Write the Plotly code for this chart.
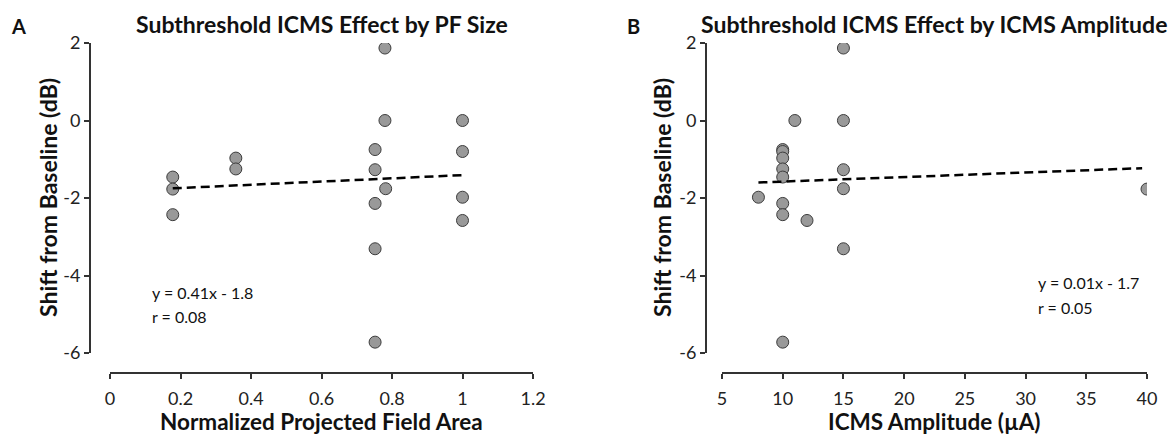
import plotly.graph_objects as go

W, H = 1168, 436

# ---- data ----
shift_db = [1.87, 0.0, 0.0, -0.75, -0.80, -0.97, -1.25, -1.27, -1.46, -1.76, -1.77,
            -1.98, -2.14, -2.43, -2.58, -3.31, -5.72]
pf_area = [0.78, 0.78, 1.0, 0.752, 1.0, 0.357, 0.357, 0.752, 0.178, 0.782, 0.178,
           1.0, 0.752, 0.178, 1.0, 0.752, 0.752]
icms_amp = [15, 15, 11, 10, 10, 10, 10, 15, 10, 15, 40,
            8, 10, 10, 12, 15, 10]

fit_a_x = [0.178, 1.0]
fit_a_y = [-1.75, -1.41]
fit_b_x = [8, 39.6]
fit_b_y = [-1.60, -1.23]

y_ticks = [2, 0, -2, -4, -6]
y_labels = ["2", "0", "-2", "-4", "-6"]
xa_ticks = [0, 0.2, 0.4, 0.6, 0.8, 1, 1.2]
xa_labels = ["0", "0.2", "0.4", "0.6", "0.8", "1", "1.2"]
xb_ticks = [5, 10, 15, 20, 25, 30, 35, 40]
xb_labels = ["5", "10", "15", "20", "25", "30", "35", "40"]

FONT = "Lato"
marker = dict(size=12, color="#999999", line=dict(color="#3c3c3c", width=1))
dash_line = dict(color="black", width=2.5, dash="9px,5px")

def px(x):
    return x / W

def py(y):
    return (H - y) / H

fig = go.Figure()
fig.add_trace(go.Scatter(x=pf_area, y=shift_db, mode="markers", marker=marker,
                         xaxis="x", yaxis="y", showlegend=False))
fig.add_trace(go.Scatter(x=fit_a_x, y=fit_a_y, mode="lines", line=dash_line,
                         xaxis="x", yaxis="y", showlegend=False))
fig.add_trace(go.Scatter(x=icms_amp, y=shift_db, mode="markers", marker=marker,
                         xaxis="x2", yaxis="y2", showlegend=False))
fig.add_trace(go.Scatter(x=fit_b_x, y=fit_b_y, mode="lines", line=dash_line,
                         xaxis="x2", yaxis="y2", showlegend=False))

ydom = [py(353), py(43)]
xpos = py(373)
axis_common = dict(showgrid=False, zeroline=False, showline=True, linecolor="#333333",
                   linewidth=2, ticks="outside", ticklen=5, tickwidth=2, tickcolor="#333333",
                   automargin=False,
                   tickfont=dict(family=FONT, size=18, color="#222222"))

fig.update_layout(
    width=W, height=H,
    margin=dict(l=0, r=0, t=0, b=0),
    paper_bgcolor="white", plot_bgcolor="white",
    xaxis=dict(domain=[px(110), px(533)], range=[0, 1.2], anchor="free", position=xpos,
               tickvals=xa_ticks, ticktext=xa_labels, ticklabelstandoff=4, **axis_common),
    yaxis=dict(domain=ydom, range=[-6, 2], anchor="free", position=px(90),
               tickvals=y_ticks, ticktext=y_labels, **axis_common),
    xaxis2=dict(domain=[px(722), px(1147)], range=[5, 40], anchor="free", position=xpos,
                tickvals=xb_ticks, ticktext=xb_labels, ticklabelstandoff=4, **axis_common),
    yaxis2=dict(domain=ydom, range=[-6, 2], anchor="free", position=px(706),
                tickvals=y_ticks, ticktext=y_labels, **axis_common),
)

def ann(text, x, y, size, bold=False, angle=0, xanchor="center", yanchor="middle"):
    fig.add_annotation(text=f"<b>{text}</b>" if bold else text, x=px(x), y=py(y),
                       xref="paper", yref="paper", showarrow=False, textangle=angle,
                       xanchor=xanchor, yanchor=yanchor, borderpad=0,
                       font=dict(family=FONT, size=size, color="#111111"))

ann("Subthreshold ICMS Effect by PF Size", 322, 24, 23, bold=True)
ann("Subthreshold ICMS Effect by ICMS Amplitude", 933.5, 24, 23, bold=True)
ann("Normalized Projected Field Area", 321.5, 421, 22.5, bold=True)
ann("ICMS Amplitude (µA)", 934.5, 421, 22.5, bold=True)
ann("Shift from Baseline (dB)", 48, 198, 23, bold=True, angle=-90)
ann("Shift from Baseline (dB)", 662, 198, 23, bold=True, angle=-90)
ann("A", 18.5, 26, 20, bold=True)
ann("B", 633, 26, 20, bold=True)
ann("y = 0.41x - 1.8", 151, 292, 16, xanchor="left")
ann("r = 0.08", 151, 316, 16, xanchor="left")
ann("y = 0.01x - 1.7", 1037, 282, 16, xanchor="left")
ann("r = 0.05", 1037, 307, 16, xanchor="left")

fig.write_html("out.html")
